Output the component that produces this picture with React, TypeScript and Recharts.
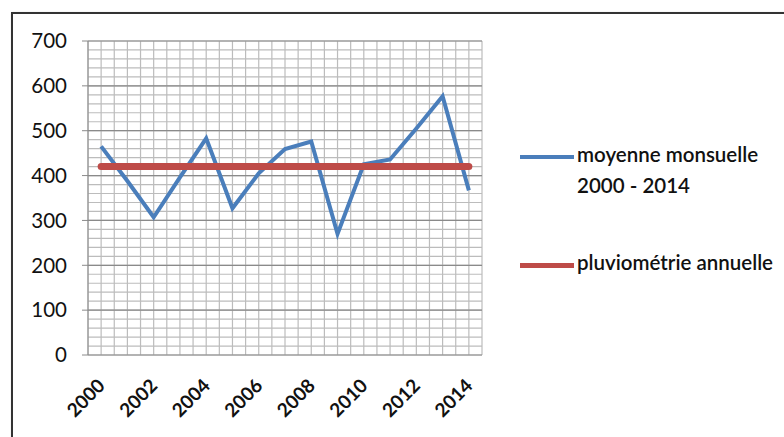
import { LineChart, Line, XAxis, YAxis, CartesianGrid } from 'recharts';

const years = ['2000', '2001', '2002', '2003', '2004', '2005', '2006', '2007', '2008', '2009', '2010', '2011', '2012', '2013', '2014'];
const moyenne = [465, 388, 307, 396, 483, 327, 405, 459, 476, 270, 425, 436, 505, 577, 367];
const pluvio = [420, 420, 420, 420, 420, 420, 420, 420, 420, 420, 420, 420, 420, 420, 420];
const yTicks = [0, 100, 200, 300, 400, 500, 600, 700];
const boundaryTicks = [0, 1, 2, 3, 4, 5, 6, 7, 8, 9, 10, 11, 12, 13, 14, 15];
const labelYears = ['2000', '2002', '2004', '2006', '2008', '2010', '2012', '2014'];

const BLUE = '#4a7ebb';
const RED = '#be4b48';
const FONT = 'Lato, "Open Sans", sans-serif';

const data = years.map((y, i) => ({ year: y, moyenne: moyenne[i], pluvio: pluvio[i] }));

function YearTick({ x, y, payload }: any) {
  if (!labelYears.includes(payload.value)) return null;
  return (
    <text
      x={x + 5}
      y={y + 30}
      transform={`rotate(-45 ${x + 5} ${y + 30})`}
      textAnchor="end"
      fontFamily={FONT}
      fontSize={19}
      fontWeight={700}
      fill="#111"
    >
      {payload.value}
    </text>
  );
}

export default function App() {
  return (
    <div style={{ position: 'absolute', left: 0, top: 0, width: 784, height: 437, overflow: 'hidden', background: '#fff' }}>
      <div
        style={{
          position: 'absolute',
          left: 11,
          top: 12,
          width: 800,
          height: 450,
          border: '2px solid #333',
          boxShadow: '1px 1px 2px #999',
        }}
      />
      <div style={{ position: 'absolute', left: 0, top: 0 }}>
        <LineChart width={784} height={437} data={data} margin={{ top: 41, right: 302, bottom: 22, left: 0 }}>
          <CartesianGrid
            stroke="#bcbcbc"
            strokeWidth={1.2}
            horizontalCoordinatesGenerator={({ offset }: any) =>
              Array.from({ length: 36 }, (_, i) => offset.top + (offset.height * i) / 35)
            }
            verticalCoordinatesGenerator={({ offset }: any) =>
              Array.from({ length: 31 }, (_, i) => offset.left + (offset.width * i) / 30)
            }
          />
          <CartesianGrid stroke="#8a8a8a" strokeWidth={1.2} vertical={false} />
          <XAxis
            xAxisId="b"
            type="number"
            dataKey={() => 0}
            domain={[0, 15]}
            ticks={boundaryTicks}
            tick={false}
            tickSize={6}
            height={0}
            stroke="#8a8a8a"
          />
          <XAxis
            dataKey="year"
            interval={0}
            padding={{ left: 13.13, right: 13.13 }}
            tick={<YearTick />}
            tickLine={false}
            axisLine={false}
            tickSize={0}
            height={60}
          />
          <YAxis
            domain={[0, 700]}
            ticks={yTicks}
            interval={0}
            width={88}
            tickSize={6}
            tickMargin={15}
            stroke="#8a8a8a"
            tick={{ fontFamily: FONT, fontSize: 20.5, fill: '#111' }}
          />
          <Line
            dataKey="moyenne"
            stroke={BLUE}
            strokeWidth={4}
            dot={false}
            isAnimationActive={false}
            strokeLinejoin="miter"
          />
          <Line
            dataKey="pluvio"
            stroke={RED}
            strokeWidth={7}
            strokeLinecap="round"
            dot={false}
            isAnimationActive={false}
          />
        </LineChart>
      </div>
      <div style={{ position: 'absolute', left: 520, top: 140, fontFamily: FONT, fontSize: 20.5, color: '#111', fontWeight: 600 }}>
        <div style={{ position: 'relative', height: 34 }}>
          <span style={{ position: 'absolute', left: 0, top: 15, width: 54, height: 4, background: BLUE }} />
          <span style={{ position: 'absolute', left: 57, top: 2, whiteSpace: 'nowrap' }}>moyenne monsuelle</span>
        </div>
        <div style={{ position: 'relative', height: 78, marginLeft: 57, top: -1 }}>2000 - 2014</div>
        <div style={{ position: 'relative', height: 34 }}>
          <span style={{ position: 'absolute', left: 0, top: 11, width: 54, height: 5, background: RED }} />
          <span style={{ position: 'absolute', left: 57, top: -2, whiteSpace: 'nowrap' }}>pluviométrie annuelle</span>
        </div>
      </div>
    </div>
  );
}
